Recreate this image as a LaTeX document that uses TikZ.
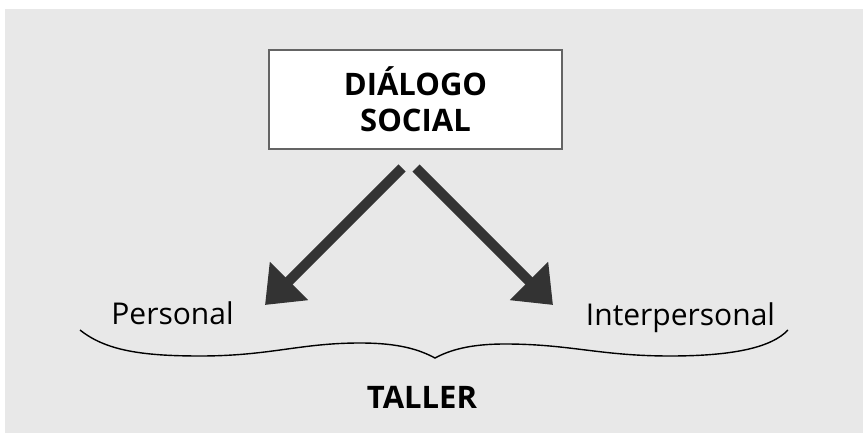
\documentclass[tikz,border=0pt]{standalone}
\usepackage{fontspec}
\setmainfont{Open Sans}
\usetikzlibrary{arrows.meta}
\definecolor{bggray}{RGB}{232,232,232}
\definecolor{boxline}{RGB}{100,100,100}
\definecolor{arrowgray}{RGB}{51,51,51}
\tikzset{
  titlebox/.style={draw=boxline, line width=2pt, fill=white, minimum width=293pt, minimum height=99pt, inner sep=0pt, align=center, font=\fontsize{31}{36}\selectfont\bfseries},
  lbl/.style={inner sep=0pt, anchor=base, font=\fontsize{30}{34}\selectfont},
  boldlbl/.style={inner sep=0pt, anchor=base, font=\fontsize{31}{34}\selectfont\bfseries},
  bigarrow/.style={arrowgray, line width=10pt, -{Triangle[length=34pt, width=52pt]}},
  bracel/.style={black, line width=1.4pt}
}
\begin{document}
\begin{tikzpicture}[x=1pt, y=-1pt]
\useasboundingbox (0,0) rectangle (863,433);
\fill[bggray] (5,9) rectangle (863,433);
\node[titlebox] (box) at (415.5,99.5) {DIÁLOGO\\SOCIAL};
\coordinate (s1) at (402,168);
\coordinate (e1) at (265,305);
\coordinate (s2) at (416,168);
\coordinate (e2) at (553,305);
\draw[bigarrow] (s1) -- (e1);
\draw[bigarrow] (s2) -- (e2);
\node[lbl] (personal) at (172.5,324) {Personal};
\node[lbl] (inter) at (680.5,325) {Interpersonal};
\coordinate (bl) at (80,330);
\coordinate (bt) at (435,358);
\coordinate (br) at (788,330);
\draw[bracel] (bl) .. controls (105,350) and (140,356) .. (200,356)
  .. controls (270,356) and (300,343) .. (360,343)
  .. controls (400,343) and (420,350) .. (bt)
  .. controls (450,350) and (470,344) .. (505,344)
  .. controls (570,344) and (600,356) .. (670,356)
  .. controls (735,356) and (772,347) .. (br);
\node[boldlbl] (taller) at (422,408.5) {TALLER};
\end{tikzpicture}
\end{document}
